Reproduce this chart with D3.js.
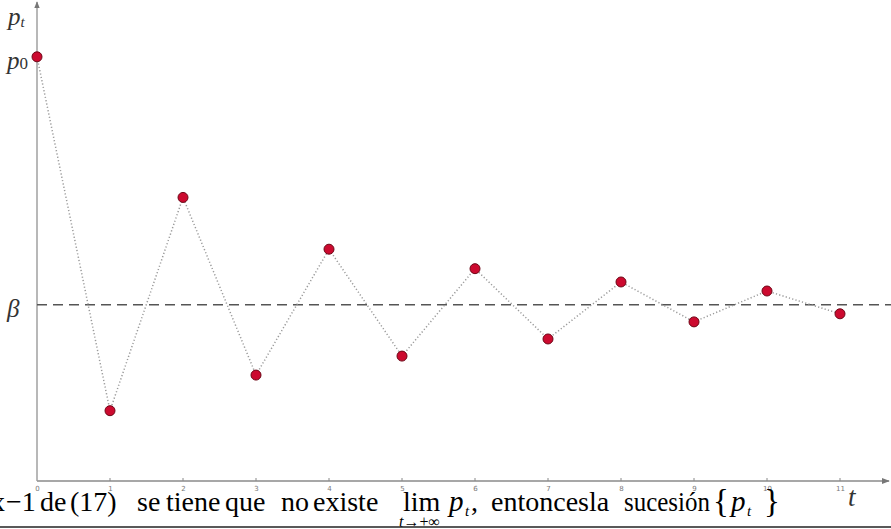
<!DOCTYPE html>
<html><head><meta charset="utf-8">
<script src="https://cdn.jsdelivr.net/npm/d3@7"></script>
<style>html,body{margin:0;padding:0;background:#fff;overflow:hidden}</style>
</head><body>
<svg id="c" width="891" height="529"></svg>
<script>
// Data
const tValues = [0,1,2,3,4,5,6,7,8,9,10,11];
const pValues = [8.93,1.48,5.97,2.23,4.88,2.63,4.47,2.99,4.19,3.35,4.0,3.52];
const betaValue = 3.71;
const xTickLabels = ["0","1","2","3","4","5","6","7","8","9","10","11"];

const svg = d3.select("#c");
const x = d3.scaleLinear().domain([0,11]).range([37,840]);
const y = d3.scaleLinear().domain([0,10]).range([481,6]);
const serif = "'Liberation Serif','DejaVu Serif',serif";

svg.append("defs").append("marker").attr("id","arr").attr("viewBox","0 0 10 10")
  .attr("refX",9).attr("refY",5).attr("markerWidth",5).attr("markerHeight",5).attr("orient","auto")
  .append("path").attr("d","M0,1 L10,5 L0,9 Z").attr("fill","#777");

// axes
svg.append("line").attr("x1",x(0)).attr("y1",y(0)).attr("x2",889).attr("y2",y(0))
  .attr("stroke","#8a8a8a").attr("stroke-width",1.6).attr("marker-end","url(#arr)");
svg.append("line").attr("x1",x(0)).attr("y1",y(0)).attr("x2",x(0)).attr("y2",2)
  .attr("stroke","#9a9a9a").attr("stroke-width",1.4).attr("marker-end","url(#arr)");

// ticks
const xAxis = d3.axisBottom(x).tickValues(tValues).tickSize(0).tickFormat((d,i)=>xTickLabels[i]);
const gx = svg.append("g").attr("transform",`translate(0,${y(0)})`).call(xAxis);
gx.select(".domain").remove();
gx.selectAll("text").attr("font-size",7).attr("fill","#777").attr("font-family","'DejaVu Sans',sans-serif").attr("dy","7");
svg.selectAll(".tk").data(tValues.slice(1)).join("line").attr("class","tk")
  .attr("x1",d=>x(d)).attr("x2",d=>x(d)).attr("y1",y(0)-3).attr("y2",y(0))
  .attr("stroke","#888").attr("stroke-width",1);

// beta dashed line
svg.append("line").attr("x1",x(0)).attr("x2",891).attr("y1",y(betaValue)).attr("y2",y(betaValue))
  .attr("stroke","#555").attr("stroke-width",1.6).attr("stroke-dasharray","10,6");

// dotted connecting line
const line = d3.line().x((d,i)=>x(tValues[i])).y(d=>y(d));
svg.append("path").attr("d",line(pValues)).attr("fill","none")
  .attr("stroke","#9a9a9a").attr("stroke-width",1.5).attr("stroke-dasharray","1.2,2.2");

// points
svg.selectAll(".pt").data(pValues).join("circle").attr("class","pt")
  .attr("cx",(d,i)=>x(tValues[i])).attr("cy",d=>y(d)).attr("r",5)
  .attr("fill","#cc0a2f").attr("stroke","#6e0616").attr("stroke-width",1);

// axis labels
const pt = svg.append("text").attr("x",8).attr("y",25).attr("font-family",serif).attr("font-style","italic").attr("font-size",25).attr("fill","#333");
pt.append("tspan").text("p");
pt.append("tspan").attr("font-size",15).attr("dy",2).text("t");
const p0 = svg.append("text").attr("x",7).attr("y",y(pValues[0])+12).attr("font-family",serif).attr("font-size",25).attr("fill","#333");
p0.append("tspan").attr("font-style","italic").text("p");
p0.append("tspan").attr("font-size",17).text("0");
svg.append("text").attr("x",7).attr("y",y(betaValue)+12).attr("font-family",serif).attr("font-style","italic").attr("font-size",25).attr("fill","#333").text("β");
svg.append("text").attr("x",848).attr("y",506).attr("font-family",serif).attr("font-style","italic").attr("font-size",27).attr("fill","#333").text("t");

// overlapping text line
const words = [
  {s:"x",x:-9},{s:"−1",x:6},{s:"de",x:40},{s:"(17)",x:70},{s:"se",x:137},{s:"tiene",x:166},
  {s:"que",x:225},{s:"no",x:281},{s:"existe",x:313},{s:"lim",x:403},
  {s:",",x:471},{s:"entoncesla",x:491},{s:"sucesión",x:624,w:86}
];
const wt = svg.selectAll(".w").data(words).join("text").attr("class","w")
  .attr("x",d=>d.x).attr("y",511).attr("font-family",serif).attr("font-size",28).attr("fill","#000").text(d=>d.s);
wt.filter(d=>d.w).attr("textLength",d=>d.w).attr("lengthAdjust","spacingAndGlyphs");
svg.append("text").attr("x",713).attr("y",512).attr("font-family",serif).attr("font-size",33).attr("fill","#000").text("{");
svg.append("text").attr("x",764).attr("y",512).attr("font-family",serif).attr("font-size",33).attr("fill","#000").text("}");
svg.append("text").attr("x",399).attr("y",527).attr("font-family",serif).attr("font-size",16).attr("fill","#000")
  .html("<tspan font-style='italic'>t</tspan>→+∞");
[[449,465],[731,747]].forEach(([a,b])=>{
  svg.append("text").attr("x",a).attr("y",511).attr("font-family",serif).attr("font-style","italic").attr("font-size",29).attr("fill","#000").text("p");
  svg.append("text").attr("x",b).attr("y",516).attr("font-family",serif).attr("font-style","italic").attr("font-size",15).attr("fill","#000").text("t");
});
svg.append("line").attr("x1",0).attr("x2",891).attr("y1",527).attr("y2",527).attr("stroke","#222").attr("stroke-width",1.6);
</script>
</body></html>
